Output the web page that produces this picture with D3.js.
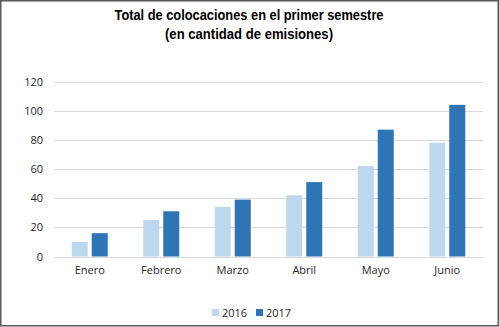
<!DOCTYPE html>
<html><head><meta charset="utf-8">
<script src="https://cdn.jsdelivr.net/npm/d3@7"></script>
<style>body{margin:0;background:#fff}svg{display:block}</style>
</head><body>
<svg id="c" width="499" height="327"></svg>
<script>
const months = ["Enero","Febrero","Marzo","Abril","Mayo","Junio"];
const series = ["2016","2017"];
const values2016 = [10,25,34,42,62,78];
const values2017 = [16,31,39,51,87,104];
const yTicks = [0,20,40,60,80,100,120];
const colors = ["#BDD7EE","#2E75B6"];
const titleLines = ["Total de colocaciones en el primer semestre","(en cantidad de emisiones)"];

const svg = d3.select("#c");
svg.append("rect").attr("x",0.75).attr("y",0.75).attr("width",497.5).attr("height",325)
  .attr("fill","#fff").attr("stroke","#595959").attr("stroke-width",1.5);

const x0 = d3.scaleBand().domain(months).range([54,483]).padding(0);
const x1 = d3.scaleBand().domain(series).range([0,36]).paddingInner(0.2).paddingOuter(0);
const y = d3.scaleLinear().domain([0,120]).range([256.5,81.5]);
const font = "'Open Sans', 'Noto Sans', sans-serif";

// grid
svg.append("g").selectAll("line").data(yTicks).join("line")
  .attr("x1",54).attr("x2",483).attr("y1",d=>Math.round(y(d))+0.5).attr("y2",d=>Math.round(y(d))+0.5)
  .attr("stroke","#D9D9D9").attr("stroke-width",1);

// y axis labels
const yAxis = d3.axisLeft(y).tickValues(yTicks).tickSize(0).tickPadding(0);
const ya = svg.append("g").attr("transform","translate(43,0)").call(yAxis);
ya.select(".domain").remove();
ya.selectAll("text").attr("font-family",font).attr("font-size",11).attr("fill","#262626");

// bars
const data = months.map((m,i)=>({m, vals:[values2016[i],values2017[i]]}));
const g = svg.append("g").selectAll("g").data(data).join("g")
  .attr("transform",d=>`translate(${x0(d.m)+x0.bandwidth()/2-18},0)`);
g.selectAll("rect").data(d=>d.vals.map((v,j)=>({s:series[j],v,j}))).join("rect")
  .attr("x",d=>x1(d.s)).attr("width",x1.bandwidth())
  .attr("y",d=>y(d.v)).attr("height",d=>y(0)-y(d.v))
  .attr("fill",d=>colors[d.j]);

// x axis labels
const xAxis = d3.axisBottom(x0).tickSize(0).tickPadding(0);
const xa = svg.append("g").attr("transform","translate(0,266)").call(xAxis);
xa.select(".domain").remove();
xa.selectAll("text").attr("font-family",font).attr("font-size",11).attr("fill","#262626");

// title
const titleWidths = [269,168];
svg.append("g").selectAll("text").data(titleLines).join("text")
  .attr("x",249).attr("y",(d,i)=>20+i*19).attr("text-anchor","middle")
  .attr("font-family","'Liberation Sans Narrow','Arial Narrow','Liberation Sans',sans-serif")
  .attr("font-weight","bold").attr("font-size",15.5).attr("fill","#000")
  .attr("textLength",(d,i)=>titleWidths[i]).attr("lengthAdjust","spacingAndGlyphs")
  .text(d=>d);

// legend
const legX = [212,256];
const lg = svg.append("g").selectAll("g").data(series).join("g")
  .attr("transform",(d,i)=>`translate(${legX[i]},309)`);
lg.append("rect").attr("width",7).attr("height",7).attr("fill",(d,i)=>colors[i]);
lg.append("text").attr("x",10).attr("y",7.5).attr("font-family",font).attr("font-size",11)
  .attr("fill","#262626").text(d=>d);
</script>
</body></html>
